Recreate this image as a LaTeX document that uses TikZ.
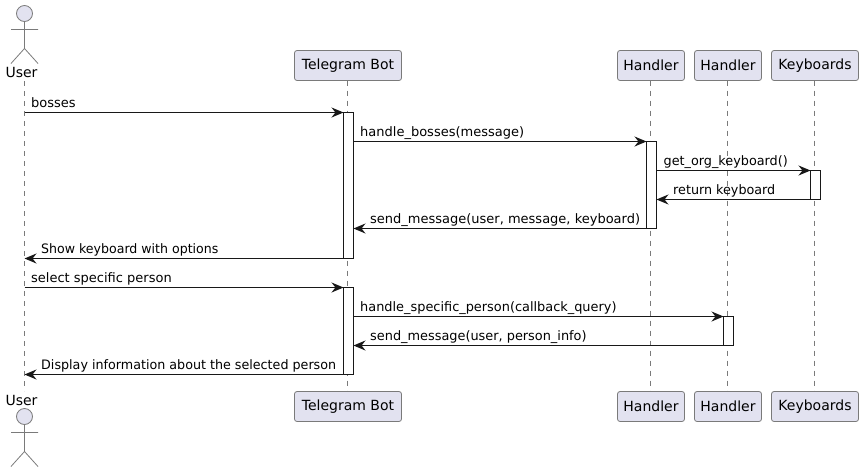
\documentclass[tikz,border=0pt]{standalone}
\usepackage{fontspec}
\setmainfont{DejaVu Sans}
\usetikzlibrary{arrows.meta}
\definecolor{ink}{HTML}{181818}
\definecolor{soft}{HTML}{7A7A7A}
\definecolor{boxfill}{HTML}{E2E2F0}
\tikzset{
  x=1pt,y=-1pt,
  partbox/.style={draw=soft,line width=.8pt,fill=boxfill,rounded corners=2.5pt,minimum height=30pt,inner sep=0pt,outer sep=0pt,font=\fontsize{14}{16}\selectfont,text=black},
  lifeline/.style={draw=soft,line width=.8pt,dash pattern=on 5pt off 5pt},
  activation/.style={draw=ink,line width=1pt,fill=white,minimum width=10pt,inner sep=0pt,outer sep=0pt,anchor=north},
  msg/.style={draw=ink,line width=1pt,-{Stealth[length=12pt,width=10pt,inset=4pt,color=ink]}},
  msglabel/.style={anchor=base west,inner sep=0pt,font=\fontsize{13}{15}\selectfont,text=black},
  actorlabel/.style={anchor=base,inner sep=0pt,font=\fontsize{14}{16}\selectfont,text=black},
  actorline/.style={draw=soft,line width=.8pt},
  actorhead/.style={draw=soft,line width=.8pt,fill=boxfill,circle,minimum size=16pt,inner sep=0pt,outer sep=0pt},
}
\begin{document}
\begin{tikzpicture}
\useasboundingbox (0,0) rectangle (863,472);
% lifeline ends
\coordinate (ut) at (24.5,81); \coordinate (ub) at (24.5,391);
% participants
\node[partbox,minimum width=107pt] (bt) at (348,65.5) {Telegram Bot};
\node[partbox,minimum width=107pt] (bb) at (348,406.5) {Telegram Bot};
\node[partbox,minimum width=67pt] (ht) at (651,65.5) {Handler};
\node[partbox,minimum width=67pt] (hb) at (651,406.5) {Handler};
\node[partbox,minimum width=67pt] (st) at (728,65.5) {Handler};
\node[partbox,minimum width=67pt] (sb) at (728,406.5) {Handler};
\node[partbox,minimum width=87pt] (kt) at (815,65.5) {Keyboards};
\node[partbox,minimum width=87pt] (kb) at (815,406.5) {Keyboards};
% lifelines
\draw[lifeline] (ut) -- (ub);
\draw[lifeline] (347.5,80.5) coordinate (bl1) -- (347.5,391.5) coordinate (bl2);
\draw[lifeline] (650.5,80.5) coordinate (hl1) -- (650.5,391.5) coordinate (hl2);
\draw[lifeline] (727.5,80.5) coordinate (sl1) -- (727.5,391.5) coordinate (sl2);
\draw[lifeline] (814.5,80.5) coordinate (kl1) -- (814.5,391.5) coordinate (kl2);
% actors
\node[actorhead] (uh1) at (24.5,13.5) {};
\coordinate (uh1b) at (24.5,48.5);
\coordinate (ua1l) at (11,29.5); \coordinate (ua1r) at (38,29.5);
\coordinate (ul1l) at (11,63.5); \coordinate (ul1r) at (38,63.5);
\draw[actorline] (uh1.south) -- (uh1b) (ua1l) -- (ua1r) (ul1l) -- (uh1b) -- (ul1r);
\node[actorlabel] (un1) at (21.5,77) {User};
\node[actorlabel] (un2) at (21.5,405) {User};
\node[actorhead] (uh2) at (24.5,416.5) {};
\coordinate (uh2b) at (24.5,451.5);
\coordinate (ua2l) at (11,432.5); \coordinate (ua2r) at (38,432.5);
\coordinate (ul2l) at (11,466.5); \coordinate (ul2r) at (38,466.5);
\draw[actorline] (uh2.south) -- (uh2b) (ua2l) -- (ua2r) (ul2l) -- (uh2b) -- (ul2r);
% activations
\node[activation,minimum height=146pt] (ab1) at (348.5,112.5) {};
\node[activation,minimum height=87pt] (ah1) at (651.5,141.5) {};
\node[activation,minimum height=29pt] (ak) at (815.5,170.5) {};
\node[activation,minimum height=87pt] (ab2) at (348.5,287.5) {};
\node[activation,minimum height=29pt] (as) at (728.5,316.5) {};
% message ends on the user lifeline
\coordinate (u1) at (24.5,112.5);
\coordinate (u2) at (24.5,258.5);
\coordinate (u3) at (24.5,287.5);
\coordinate (u4) at (24.5,374.5);
% messages
\draw[msg] (u1) -- (ab1.north west);
\draw[msg] (ab1.east |- ah1.north) -- (ah1.north west);
\draw[msg] (ah1.east |- ak.north) -- (ak.north west);
\draw[msg] (ak.south west) -- (ah1.east |- ak.south);
\draw[msg] (ah1.south west) -- (ab1.east |- ah1.south);
\draw[msg] (ab1.south west) -- (u2);
\draw[msg] (u3) -- (ab2.north west);
\draw[msg] (ab2.east |- as.north) -- (as.north west);
\draw[msg] (as.south west) -- (ab2.east |- as.south);
\draw[msg] (ab2.south west) -- (u4);
% labels
\node[msglabel] (t1) at (31,107) {bosses};
\node[msglabel] (t2) at (360,136) {handle\_bosses(message)};
\node[msglabel] (t3) at (663.5,165) {\scalebox{.984}[1]{get\_org\_keyboard()}};
\node[msglabel] (t4) at (673,194) {\scalebox{.98}[1]{return keyboard}};
\node[msglabel] (t5) at (370,223) {send\_message(user, message, keyboard)};
\node[msglabel] (t6) at (41,253) {\scalebox{.967}[1]{Show keyboard with options}};
\node[msglabel] (t7) at (31,282) {select specific person};
\node[msglabel] (t8) at (360,311) {\scalebox{.992}[1]{handle\_specific\_person(callback\_query)}};
\node[msglabel] (t9) at (370,340) {\scalebox{.991}[1]{send\_message(user, person\_info)}};
\node[msglabel] (t10) at (41,369) {\scalebox{.977}[1]{Display information about the selected person}};
\end{tikzpicture}
\end{document}
